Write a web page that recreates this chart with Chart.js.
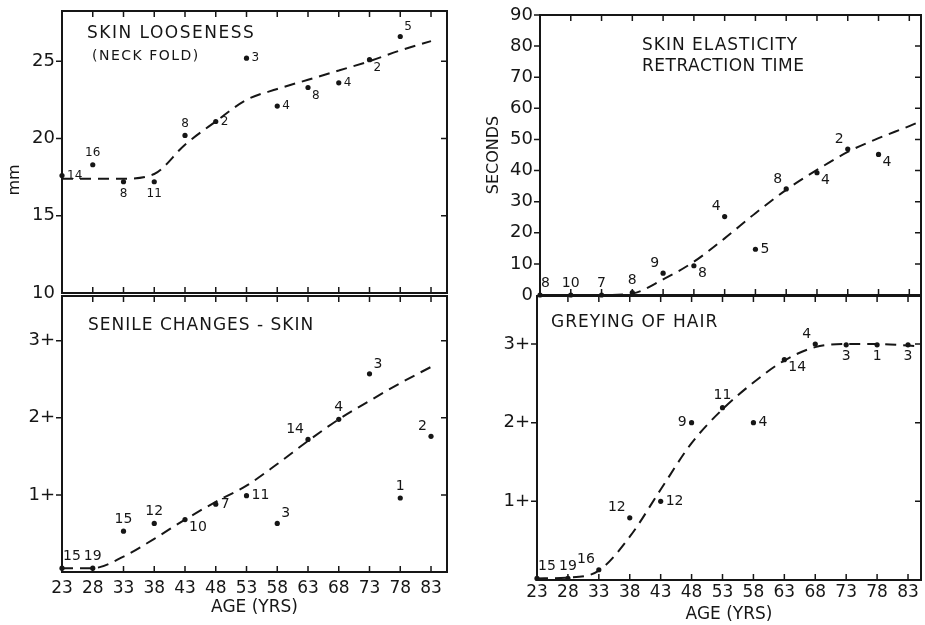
<!DOCTYPE html>
<html>
<head>
<meta charset="utf-8">
<script src="https://cdn.jsdelivr.net/npm/chart.js@4.4.1/dist/chart.umd.min.js"></script>
<style>
  html, body { margin: 0; padding: 0; background: #fff; }
  body { width: 925px; height: 625px; position: relative; overflow: hidden; }
  canvas { position: absolute; }
</style>
</head>
<body>
<canvas id="loose" width="462" height="305" style="left:0;top:0"></canvas>
<canvas id="elastic" width="463" height="307" style="left:462px;top:0"></canvas>
<canvas id="senile" width="462" height="333" style="left:0;top:292px"></canvas>
<canvas id="grey" width="463" height="333" style="left:462px;top:292px"></canvas>
<script>
const INK = '#161616';
const FONT = "'DejaVu Sans', sans-serif";

// ages on every panel
const ageTicks = [23, 28, 33, 38, 43, 48, 53, 58, 63, 68, 73, 78, 83];

// skin looseness (neck fold), mm
const looseAges = [23, 28, 33, 38, 43, 48, 53, 58, 63, 68, 73, 78];
const looseMm = [17.6, 18.3, 17.2, 17.2, 20.2, 21.1, 25.2, 22.1, 23.3, 23.6, 25.1, 26.6];
const looseN = ['14', '16', '8', '11', '8', '2', '3', '4', '8', '4', '2', '5'];
const looseFitAges = [23, 28, 33, 38, 43, 48, 53, 58, 63, 68, 73, 78, 83];
const looseFit = [17.4, 17.4, 17.4, 17.7, 19.6, 21.1, 22.5, 23.2, 23.8, 24.4, 25.0, 25.7, 26.3];
const looseTicks = [10, 15, 20, 25];

// skin elasticity, retraction time in seconds
const elasticAges = [23, 28, 33, 38, 43, 48, 53, 58, 63, 68, 73, 78];
const elasticSec = [0, 0, 0, 0.8, 7.0, 9.4, 25.2, 14.7, 34.1, 39.3, 46.9, 45.2];
const elasticN = ['8', '10', '7', '8', '9', '8', '4', '5', '8', '4', '2', '4'];
const elasticFitAges = [23, 28, 33, 38, 43, 48, 53, 58, 63, 68, 73, 78, 83, 85];
const elasticFit = [0, 0, 0, 0.5, 5, 10.7, 18.2, 26.3, 33.8, 40.2, 46, 50.4, 54.3, 56];
const elasticTicks = [0, 10, 20, 30, 40, 50, 60, 70, 80, 90];

// senile changes of skin, grade
const senileAges = [23, 28, 33, 38, 43, 48, 53, 58, 63, 68, 73, 78, 83];
const senileGrade = [0.05, 0.05, 0.53, 0.63, 0.68, 0.88, 0.99, 0.63, 1.72, 1.98, 2.57, 0.96, 1.76];
const senileN = ['15', '19', '15', '12', '10', '7', '11', '3', '14', '4', '3', '1', '2'];
const senileFitAges = [23, 28, 33, 38, 43, 48, 53, 58, 63, 68, 73, 78, 83];
const senileFit = [0.05, 0.05, 0.2, 0.43, 0.68, 0.91, 1.12, 1.4, 1.7, 1.98, 2.22, 2.45, 2.66];
const gradeTicks = [1, 2, 3];

// greying of hair, grade
const greyAges = [23, 28, 33, 38, 43, 48, 53, 58, 63, 68, 73, 78, 83];
const greyGrade = [0.02, 0.02, 0.13, 0.79, 1.0, 2.0, 2.19, 2.0, 2.8, 3.0, 2.99, 2.99, 2.99];
const greyN = ['15', '19', '16', '12', '12', '9', '11', '4', '14', '4', '3', '1', '3'];
const greyFitAges = [23, 28, 33, 38, 43, 48, 53, 58, 63, 68, 73, 78, 83, 85];
const greyFit = [0.02, 0.03, 0.12, 0.55, 1.15, 1.74, 2.17, 2.51, 2.79, 2.96, 3.0, 3.0, 2.98, 2.97];

// where each count sits next to its dot
const looseSpots = ['e', 'n', 's', 's', 'n', 'e', 'e', 'e', 'se', 'e', 'se', 'ne'];
const elasticSpots = ['nl', 'n', 'n', 'n', 'nw', 'se', 'nw', 'e', 'nw', 'se', 'nw', 'se'];
const senileSpots = ['nl', 'n', 'n', 'n', 'se', 'e', 'e', 'ne', 'nw', 'n', 'ne', 'n', 'nw'];
const greySpots = ['nl', 'n', 'nw', 'nw', 'e', 'w', 'n', 'e', 'se', 'nw', 's', 's', 's'];

const spotOffsets = {
  n: [0, -12, 'center'], s: [0, 12, 'center'], e: [5, 0, 'left'], w: [-5, 0, 'right'],
  nl: [1, -12, 'left'], ne: [4, -10, 'left'], nw: [-4, -10, 'right'],
  se: [4, 8, 'left'], sw: [-4, 8, 'right']
};

const pts = (xs, ys) => xs.map((x, i) => ({ x: x, y: ys[i] }));

// box, inward tick marks and panel captions
const framePlugin = {
  id: 'frame',
  afterDatasetsDraw(chart, args, opts) {
    const ctx = chart.ctx;
    const a = chart.chartArea;
    const xs = chart.scales.x, ys = chart.scales.y;
    ctx.save();
    ctx.strokeStyle = INK;
    ctx.lineWidth = 2;
    ctx.strokeRect(a.left, a.top, a.right - a.left, a.bottom - a.top);
    ctx.lineWidth = 1.5;
    ctx.beginPath();
    xs.ticks.forEach(t => {
      const px = xs.getPixelForValue(t.value);
      if (px <= a.left + 1) return;
      ctx.moveTo(px, a.top); ctx.lineTo(px, a.top + 6);
      ctx.moveTo(px, a.bottom); ctx.lineTo(px, a.bottom - 6);
    });
    ys.ticks.forEach(t => {
      const py = ys.getPixelForValue(t.value);
      if (py >= a.bottom - 1) return;
      ctx.moveTo(a.left - 6, py); ctx.lineTo(a.left, py);
      ctx.moveTo(a.right, py); ctx.lineTo(a.right - 6, py);
    });
    ctx.stroke();
    ctx.fillStyle = INK;
    ctx.textBaseline = 'alphabetic';
    ctx.textAlign = 'left';
    (opts.captions || []).forEach(c => {
      ctx.font = (c.weight || 'normal') + ' ' + c.size + 'px ' + FONT;
      ctx.letterSpacing = (c.spacing || 1) + 'px';
      ctx.fillText(c.text, a.left + c.dx, a.top + c.dy);
    });
    ctx.restore();
  }
};

// sample sizes beside the dots
const countPlugin = {
  id: 'counts',
  afterDatasetsDraw(chart, args, opts) {
    const ctx = chart.ctx;
    chart.data.datasets.forEach((ds, di) => {
      if (!ds.counts) return;
      const meta = chart.getDatasetMeta(di);
      ctx.save();
      ctx.fillStyle = INK;
      ctx.font = opts.size + 'px ' + FONT;
      ctx.textBaseline = 'middle';
      meta.data.forEach((el, i) => {
        const o = spotOffsets[ds.spots[i]];
        ctx.textAlign = o[2];
        ctx.fillText(ds.counts[i], el.x + o[0], el.y + o[1]);
      });
      ctx.restore();
    });
  }
};

function noPad(s) {
  s.paddingTop = 0; s.paddingBottom = 0; s.paddingLeft = 0; s.paddingRight = 0;
}

function xAxis(max, height, showLabels, labelPad, titlePad) {
  return {
    type: 'linear', min: 23, max: max,
    afterBuildTicks: s => { s.ticks = ageTicks.map(v => ({ value: v })); },
    afterFit: s => { s.height = height; noPad(s); },
    grid: { display: false, drawTicks: false }, border: { display: false },
    ticks: {
      display: showLabels, autoSkip: false, maxRotation: 0, padding: labelPad,
      color: INK, font: { family: FONT, size: 17 }
    },
    title: {
      display: showLabels, text: 'AGE (YRS)', color: INK,
      font: { family: FONT, size: 17 }, padding: { top: 0, bottom: titlePad }
    }
  };
}

function yAxis(min, max, tickVals, fmt, width, title, titlePad) {
  return {
    type: 'linear', min: min, max: max,
    afterBuildTicks: s => { s.ticks = tickVals.map(v => ({ value: v })); },
    afterFit: s => { s.width = width; noPad(s); },
    grid: { display: false, drawTicks: false }, border: { display: false },
    ticks: { color: INK, font: { family: FONT, size: 18 }, padding: 7, callback: fmt },
    title: {
      display: !!title, text: title || '', color: INK,
      font: { family: FONT, size: 16 }, padding: { top: titlePad, bottom: 0 }
    }
  };
}

function panel(id, fitXs, fitYs, dotXs, dotYs, counts, spots, scales, padding, captions, countSize) {
  return new Chart(document.getElementById(id), {
    data: {
      datasets: [
        {
          type: 'line', data: pts(fitXs, fitYs), borderColor: INK, borderWidth: 2,
          borderDash: [11, 7], pointRadius: 0, fill: false, tension: 0.4,
          cubicInterpolationMode: 'monotone', clip: 4
        },
        {
          type: 'scatter', data: pts(dotXs, dotYs), counts: counts, spots: spots,
          pointRadius: 2.6, pointBackgroundColor: INK, pointBorderWidth: 0, clip: 6
        }
      ]
    },
    options: {
      responsive: false, animation: false,
      layout: { padding: padding },
      scales: scales,
      plugins: {
        legend: { display: false }, tooltip: { enabled: false },
        frame: { captions: captions }, counts: { size: countSize }
      }
    },
    plugins: [framePlugin, countPlugin]
  });
}

panel('loose', looseFitAges, looseFit, looseAges, looseMm, looseN, looseSpots,
  { x: xAxis(85.6, 12, false, 0, 0), y: yAxis(10, 28.25, looseTicks, v => String(v), 62, 'mm           ', 5) },
  { left: 0, top: 11, right: 15, bottom: 0 },
  [{ text: 'SKIN LOOSENESS', dx: 25, dy: 27, size: 17, spacing: 1.5 },
   { text: '(NECK FOLD)', dx: 30, dy: 49, size: 14, spacing: 1.5 }], 12);

panel('elastic', elasticFitAges, elasticFit, elasticAges, elasticSec, elasticN, elasticSpots,
  { x: xAxis(84.9, 12, false, 0, 0), y: yAxis(0, 90, elasticTicks, v => String(v), 78, 'SECONDS', 22) },
  { left: 0, top: 15, right: 0, bottom: 0 },
  [{ text: 'SKIN ELASTICITY', dx: 102, dy: 35, size: 17, spacing: 1 },
   { text: 'RETRACTION TIME', dx: 102, dy: 56, size: 17, spacing: 0.5 }], 14);

panel('senile', senileFitAges, senileFit, senileAges, senileGrade, senileN, senileSpots,
  { x: xAxis(85.6, 53, true, 6, 7), y: yAxis(0, 3.58, gradeTicks, v => v + '+', 62, '', 0) },
  { left: 0, top: 0, right: 15, bottom: 0 },
  [{ text: 'SENILE CHANGES - SKIN', dx: 26, dy: 34, size: 17, spacing: 1 }], 14);

panel('grey', greyFitAges, greyFit, greyAges, greyGrade, greyN, greySpots,
  { x: xAxis(85.1, 45, true, 2, 0), y: yAxis(0, 3.61, gradeTicks, v => v + '+', 75, '', 0) },
  { left: 0, top: 1, right: 0, bottom: 0 },
  [{ text: 'GREYING OF HAIR', dx: 14, dy: 31, size: 17, spacing: 1 }], 14);
</script>
</body>
</html>
